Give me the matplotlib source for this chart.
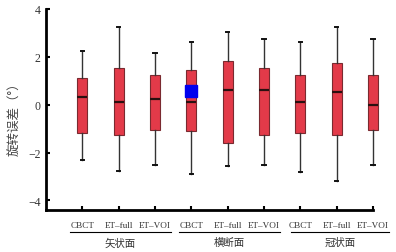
import matplotlib
matplotlib.use("Agg")
import matplotlib.pyplot as plt

categories = ["CBCT", "ET–full", "ET–VOI"] * 3
groups = ["矢状面", "横断面", "冠状面"]
whisker_low = [-2.30, -2.77, -2.50, -2.90, -2.58, -2.50, -2.80, -3.20, -2.50]
q1 = [-1.17, -1.28, -1.07, -1.10, -1.58, -1.28, -1.17, -1.28, -1.07]
median = [0.33, 0.12, 0.25, 0.12, 0.63, 0.63, 0.12, 0.53, 0.00]
q3 = [1.12, 1.53, 1.23, 1.43, 1.83, 1.53, 1.23, 1.74, 1.23]
whisker_high = [2.25, 3.25, 2.15, 2.63, 3.04, 2.75, 2.63, 3.25, 2.75]
marker_x = [4]
marker_y = [0.56]

serif = ["Liberation Serif", "DejaVu Serif"]
cjk = ["Noto Sans CJK SC", "DejaVu Sans"]

fig = plt.figure(figsize=(3.96, 2.53), dpi=100)
ax = fig.add_axes([46/396, (253-211)/253, (373-46)/396, (211-10)/253])

stats = []
for i in range(len(categories)):
    stats.append(dict(med=median[i], q1=q1[i], q3=q3[i],
                      whislo=whisker_low[i], whishi=whisker_high[i],
                      fliers=[], label=categories[i]))
pos = list(range(1, len(categories) + 1))
bp = ax.bxp(stats, positions=pos, widths=0.28, patch_artist=True, showfliers=False,
            boxprops=dict(facecolor="#E33A49", edgecolor="#7a2a30", linewidth=0.8),
            medianprops=dict(color="#2a1010", linewidth=1.6),
            whiskerprops=dict(color="#333333", linewidth=1.0),
            capprops=dict(color="#111111", linewidth=1.4), capwidths=0.1)
for key in bp:
    for art in bp[key]:
        art.set_clip_on(False)

ax.plot(marker_x, marker_y, marker="s", markersize=8, color="#0000EE",
        markeredgecolor="#0000EE", linestyle="none", zorder=5)

ax.set_xlim(0, 9)
ax.set_ylim(-4.4, 4)
ax.set_yticks([-4, -2, 0, 2, 4])
ax.set_xticks(pos)
ax.set_xticklabels(categories, fontfamily=serif, fontsize=6.6, color="#333333")
for lab in ax.get_yticklabels():
    lab.set_fontfamily(serif)
    lab.set_fontsize(8.5)
    lab.set_color("#333333")
ax.tick_params(axis="both", direction="in", length=3, width=1.5, color="black")
ax.tick_params(axis="x", pad=8)
ax.tick_params(axis="y", pad=4)
for s in ["top", "right"]:
    ax.spines[s].set_visible(False)
for s in ["left", "bottom"]:
    ax.spines[s].set_linewidth(2)

ax.set_ylabel("旋转误差（°）", fontfamily=cjk, fontsize=9, color="#444444")
ax.yaxis.set_label_coords(-0.075, 0.47)

trans = ax.get_xaxis_transform()
spans = [(0.65, 3.45), (3.65, 6.45), (6.75, 9.45)]
for g, (a, b) in zip(groups, spans):
    ax.plot([a, b], [-0.11, -0.11], transform=trans, color="black", lw=0.8,
            clip_on=False)
    ax.text((a + b) / 2, -0.135, g, transform=trans, ha="center", va="top",
            fontfamily=cjk, fontsize=7.5, color="#333333")

fig.savefig("out.png", dpi=100)
